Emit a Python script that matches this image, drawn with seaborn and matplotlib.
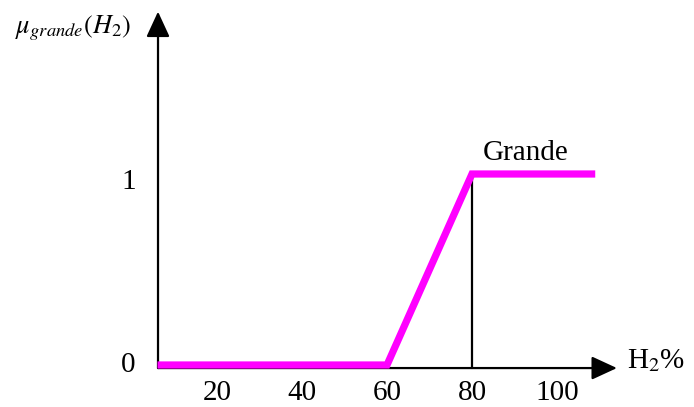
import matplotlib
matplotlib.use("Agg")
import matplotlib.pyplot as plt
import seaborn as sns
import pandas as pd

# Membership function "Grande" for H2 concentration
h2_pct = [6, 60, 80, 109]
membership = [0, 0, 1, 1]
tick_values = [20, 40, 60, 80, 100]
tick_labels = ["20", "40", "60", "80", "100"]
level_labels = ["0", "1"]

sns.set_theme(style="white")
plt.rcParams["font.family"] = ["Liberation Serif", "DejaVu Serif"]
plt.rcParams["mathtext.fontset"] = "stix"
plt.rcParams["text.color"] = "black"

fig = plt.figure(figsize=(6.94, 4.07), dpi=100)
ax = fig.add_axes([0, 0, 1, 1])
ax.set_xlim(-31.06, 132.24)
ax.set_ylim(-0.2199, 1.911)
ax.axis("off")

df = pd.DataFrame({"H2": h2_pct, "mu": membership})

x0 = 6.12       # position of the vertical axis
y0 = -0.016     # position of the horizontal axis

# axes with arrowheads
arrow = dict(arrowstyle="-|>,head_length=1.3,head_width=0.6", lw=1.6,
             color="black", shrinkA=0, shrinkB=0)
ax.annotate("", xy=(114.1, y0), xytext=(x0, y0), arrowprops=arrow)
ax.annotate("", xy=(x0, 1.85), xytext=(x0, y0), arrowprops=arrow)

# vertical guide at the start of full membership
ax.plot([80, 80], [y0, 1], color="black", lw=1.6, zorder=2)

sns.lineplot(data=df, x="H2", y="mu", ax=ax, color="#ff00ff", lw=5.2,
             zorder=3, sort=False)
ax.lines[-1].set_solid_joinstyle("miter")
ax.lines[-1].set_solid_capstyle("butt")

fs = 21
for v, lab in zip(tick_values, tick_labels):
    ax.text(v, -0.145, lab, ha="center", va="center", fontsize=fs, color="black")
ax.text(-0.85, 0.0, level_labels[0], ha="center", va="center", fontsize=fs, color="black")
ax.text(-0.85, 0.96, level_labels[1], ha="center", va="center", fontsize=fs, color="black")

ax.text(116.5, 0.025, r"H$_2$%", ha="left", va="center", fontsize=fs, color="black")
ax.text(82.5, 1.11, "Grande", ha="left", va="center", fontsize=fs, color="black")
ax.text(-27.5, 1.765, r"$\mu_{grande}(H_2)$", ha="left", va="center", fontsize=19,
        color="black")

fig.savefig("out.png", dpi=100)
